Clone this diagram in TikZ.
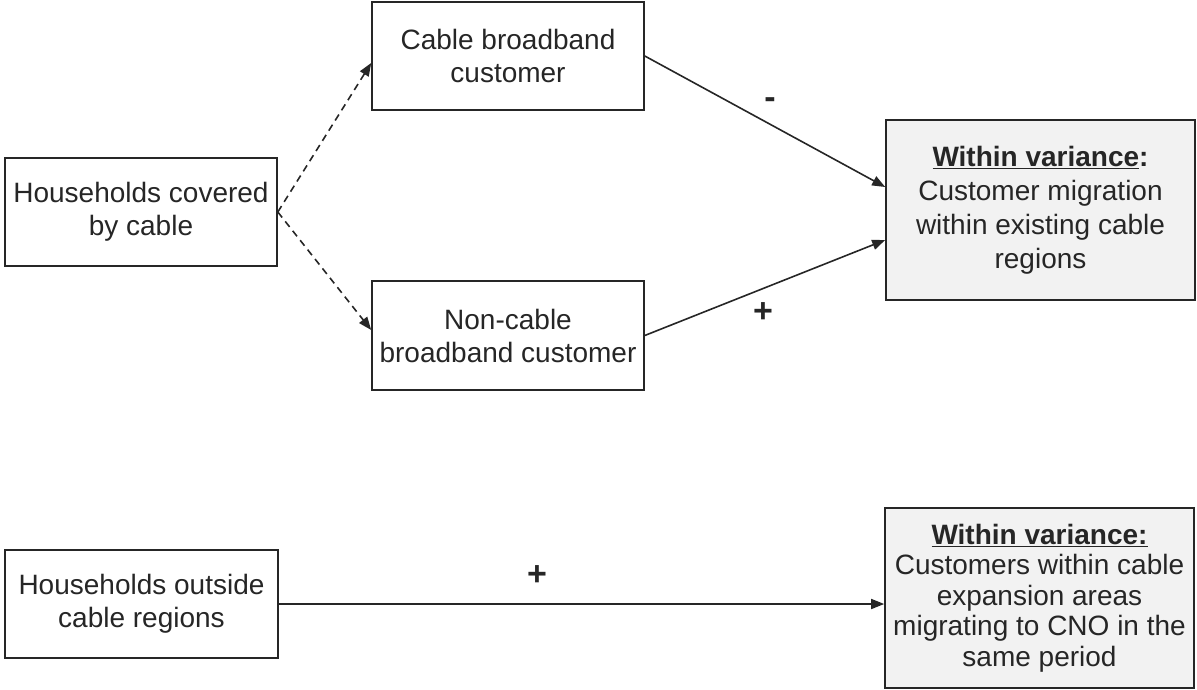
\documentclass[tikz,border=0pt]{standalone}
\usepackage{fontspec}
\setmainfont{Liberation Sans}
\usetikzlibrary{arrows.meta}
\definecolor{txt}{HTML}{262626}
\definecolor{ln}{HTML}{262626}
\definecolor{boxgray}{HTML}{F2F2F2}
\begin{document}
\begin{tikzpicture}[x=1pt,y=-1pt,
  every node/.style={font=\fontsize{28}{33}\selectfont, text=txt},
  plainbox/.style={draw=ln, line width=1.6pt, rectangle, inner sep=0pt, align=center, fill=white},
  graybox/.style={plainbox, fill=boxgray},
  arr/.style={draw=ln, line width=1.6pt, -{Triangle[length=13pt,width=10pt]}},
  dasharr/.style={arr, dash pattern=on 7pt off 5pt},
  sign/.style={font=\fontsize{34}{34}\selectfont\bfseries, inner sep=0pt}]
\useasboundingbox (0,0) rectangle (1197,690);
\node[plainbox, minimum width=272pt, minimum height=108pt] (A) at (141,212) {Households covered\\by cable};
\node[plainbox, minimum width=272pt, minimum height=108pt] (B) at (508,56) {Cable broadband\\customer};
\node[plainbox, minimum width=272pt, minimum height=109pt] (C) at (508,335.5) {Non-cable\\broadband customer};
\node[graybox, minimum width=309pt, minimum height=180pt, font=\fontsize{28}{34}\selectfont] (D) at (1040.5,210) {\textbf{\underline{Within variance}:}\\Customer migration\\within existing cable\\regions};
\node[plainbox, minimum width=273pt, minimum height=108pt] (E) at (141.5,604) {Households outside\\cable regions};
\node[graybox, minimum width=309pt, minimum height=180pt, font=\fontsize{28}{30.5}\selectfont] (F) at (1039.5,598) {\textbf{\underline{Within variance:}}\\Customers within cable\\expansion areas\\migrating to CNO in the\\same period};
\draw[dasharr] (A.east) -- ([yshift=-7pt]B.west);
\draw[dasharr] (A.east) -- ([yshift=5.5pt]C.west);
\draw[arr] (B.east) -- ([yshift=23pt]D.west);
\draw[arr] (C.east) -- ([yshift=-30pt]D.west);
\draw[arr] (E.east) -- (E.east -| F.west);
\node[sign] (m1) at (770,103) {-};
\node[sign] (p1) at (763,313) {+};
\node[sign] (p2) at (537,576) {+};
\end{tikzpicture}
\end{document}
